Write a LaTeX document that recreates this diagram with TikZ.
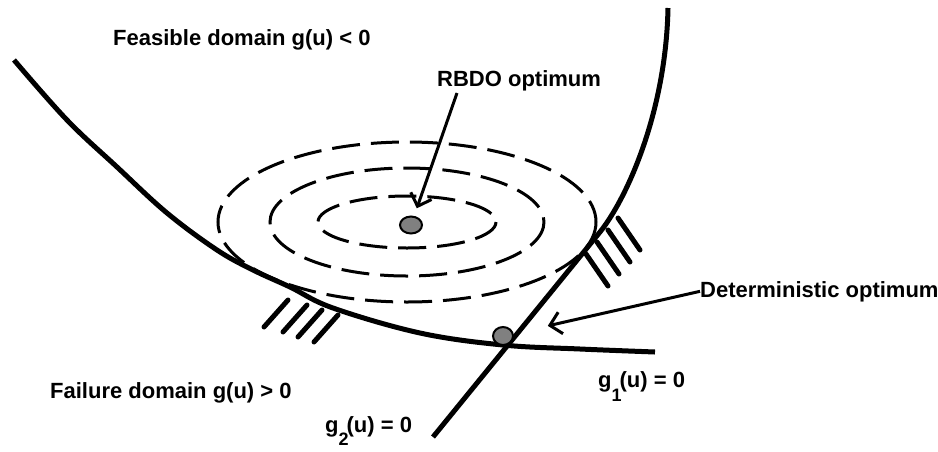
\documentclass[tikz,border=0pt]{standalone}
\usepackage{fontspec}
\setmainfont{Liberation Sans}
\usepackage{tikz}
\usetikzlibrary{arrows.meta,shapes.geometric}

\begin{document}
\begin{tikzpicture}[x=1pt, y=-1pt]
    \tikzstyle{limit} = [line width=5pt]
    \tikzstyle{contour} = [line width=3pt, dash pattern=on 28pt off 11pt]
    \tikzstyle{hatch} = [line width=5pt, line cap=round]
    \tikzstyle{optdot} = [ellipse, draw, line width=2pt, fill=gray, inner sep=0pt]
    \tikzstyle{txt} = [anchor=base west, inner sep=0pt, font=\bfseries\fontsize{22}{26}\selectfont]
    \tikzstyle{arrow} = [line width=3pt, -{Straight Barb[length=11pt, width=22pt]}]

    \useasboundingbox (0,0) rectangle (938,451);

    % contours of the probability density
    \coordinate (centre) at (407,222);
    \draw [contour] (centre) ellipse [x radius=189, y radius=80];
    \draw [contour] (centre) ellipse [x radius=137, y radius=54];
    \draw [contour] (centre) ellipse [x radius=89, y radius=26];

    % limit state curves
    \draw [limit] plot [smooth, tension=0.6] coordinates {(14,60) (67,120) (117,167) (167,213) (217,250) (253,270) (290,287) (333,308) (420,333) (503,345) (580,349) (655,352)};
    \draw [limit] (668,8) .. controls (666,110) and (628,197) .. (600,232) -- (433,437);

    % failure side hatching
    \foreach \x/\y in {288/300, 307/305, 322/310, 338/315}
        \draw [hatch] (\x,\y) -- ++(-24,27);
    \foreach \x/\y in {586/254, 597/242, 608/230, 618/218}
        \draw [hatch] (\x,\y) -- ++(22,32);

    % optima
    \node (rbdoDot) [optdot, minimum width=22pt, minimum height=17pt] at (411,225) {};
    \node (detDot) [optdot, minimum width=20pt, minimum height=18pt] at (503,336) {};

    % texts
    \node (feas) [txt] at (113,45) {Feasible domain g(u) < 0};
    \node (rbdo) [txt] at (437,86) {RBDO optimum};
    \node (det) [txt] at (700,297) {Deterministic optimum};
    \node (fail) [txt] at (50,398) {Failure domain g(u) > 0};
    \node (gone) [txt] at (598,387) {g\raisebox{-14pt}{\fontsize{18}{18}\selectfont 1}\kern-2pt(u) = 0};
    \node (gtwo) [txt] at (325,432) {g\raisebox{-13pt}{\fontsize{18}{18}\selectfont 2}\kern-2pt(u) = 0};

    \coordinate (rbdoTail) at (457,93);
    \draw [arrow, shorten >=8pt] (rbdoTail) -- (rbdoDot);
    \draw [arrow, shorten >=35pt] (det.west) -- (detDot);
\end{tikzpicture}
\end{document}
